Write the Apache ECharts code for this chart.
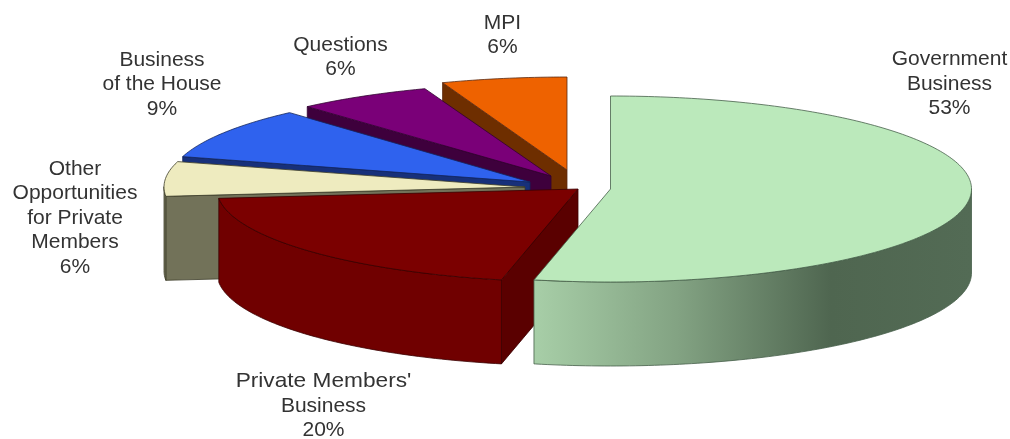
<!DOCTYPE html>
<html>
<head>
<meta charset="utf-8">
<style>html,body{margin:0;padding:0;background:#fff}#c{width:1010px;height:439px}</style>
<script src="https://cdn.jsdelivr.net/npm/echarts@6/dist/echarts.min.js"></script>
</head>
<body>
<div id="c"></div>
<script>
// ---- data
var categories = ['Government\nBusiness', "Private Members'\nBusiness", 'Other\nOpportunities\nfor Private\nMembers', 'Business\nof the House', 'Questions', 'MPI'];
var shares = [53.4, 20, 6, 9, 6, 5.6];

// ---- styling and layout
var topColors = ['#BBE9BB', '#7B0000', '#EEEBBF', '#2F62EE', '#7A0078', '#EE6200'];
var rimColors = ['#4F6650', '#700000', '#727259', '#17307A', '#3E003C', '#6E2E00'];
var cutColors = ['#4F6650', '#5A0000', '#727259', '#17307A', '#3E003C', '#6E2E00'];
var edgeColors = ['#46604A', '#3A0000', '#3C3C28', '#12265E', '#300030', '#5A2A10'];
var apexX = [610.5, 578, 525, 530, 551, 567];
var apexY = [189, 189, 187, 182, 176, 170];
var radiusX = [361, 361, 361, 361, 366, 361];
var labelX = [949.5, 323.5, 75, 162, 340.5, 502.5];
var labelY = [84, 406, 218, 84.5, 57.5, 35];
var lineStretch = {"Private Members'": 1.08};
var RY = 93, DEPTH = 84, LINE = 24.4;

var chart = echarts.init(document.getElementById('c'), null, {width: 1010, height: 439});

var total = shares.reduce(function (a, b) { return a + b; }, 0);
function startAngle(i) {
  var s = 0;
  for (var k = 0; k < i; k++) s += shares[k];
  return s / total * 360;
}
function rimPoint(i, deg) {
  var r = deg * Math.PI / 180;
  return [apexX[i] + radiusX[i] * Math.sin(r), apexY[i] - RY * Math.cos(r)];
}
function drop(p) { return [p[0], p[1] + DEPTH]; }

function renderItem(params, api) {
  var i = api.value(0);
  var v = api.value(1);
  var a1 = startAngle(i);
  var a2 = a1 + v / total * 360;
  var base = (categories.length - i) * 10;
  var apex = [apexX[i], apexY[i]];
  var arc = [];
  for (var d = a1; d < a2; d += 1) arc.push(rimPoint(i, d));
  arc.push(rimPoint(i, a2));

  var children = [];
  var edge = {stroke: edgeColors[i], lineWidth: 0.8};

  // cut face at the start of the slice, only if it faces the viewer
  var first = arc[0];
  if (first[0] < apex[0] - 0.5) {
    children.push({type: 'polygon', z2: base,
      shape: {points: [apex, first, drop(first), drop(apex)]},
      style: {fill: cutColors[i], stroke: edge.stroke, lineWidth: edge.lineWidth}});
  }
  // outer wall: the part of the rim that runs leftwards on screen
  var front = arc.filter(function (p, k) {
    return (k > 0 && arc[k - 1][0] > p[0]) || (k < arc.length - 1 && arc[k + 1][0] < p[0]);
  });
  if (front.length > 1) {
    var wall = front.concat(front.slice().reverse().map(drop));
    var fill = rimColors[i];
    if (i === 0) {
      fill = new echarts.graphic.LinearGradient(532, 0, 971, 0, [
        {offset: 0, color: '#A8CFA8'},
        {offset: 0.33, color: '#83A383'},
        {offset: 0.68, color: '#4F6650'},
        {offset: 1, color: '#536B55'}
      ], true);
    }
    children.push({type: 'polygon', z2: base + 1,
      shape: {points: wall},
      style: {fill: fill, stroke: edge.stroke, lineWidth: edge.lineWidth}});
  }
  // top face
  children.push({type: 'polygon', z2: base + 2,
    shape: {points: [apex].concat(arc)},
    style: {fill: topColors[i], stroke: edge.stroke, lineWidth: edge.lineWidth}});
  // label, one text per line
  var lines = (categories[i] + '\n' + Math.round(v) + '%').split('\n');
  lines.forEach(function (line, k) {
    children.push({type: 'text', z2: 200,
      x: labelX[i],
      y: labelY[i] + (k - (lines.length - 1) / 2) * LINE,
      scaleX: lineStretch[line] || 1,
      style: {
        text: line,
        font: '21px "Liberation Sans", Arial, sans-serif',
        fill: '#333333', align: 'center', verticalAlign: 'middle'
      }});
  });
  return {type: 'group', children: children};
}

chart.setOption({
  backgroundColor: '#ffffff',
  animation: false,
  series: [{
    type: 'custom',
    coordinateSystem: 'none',
    silent: true,
    clip: false,
    data: shares.map(function (v, i) { return [i, v]; }),
    renderItem: renderItem
  }]
});
</script>
</body>
</html>
